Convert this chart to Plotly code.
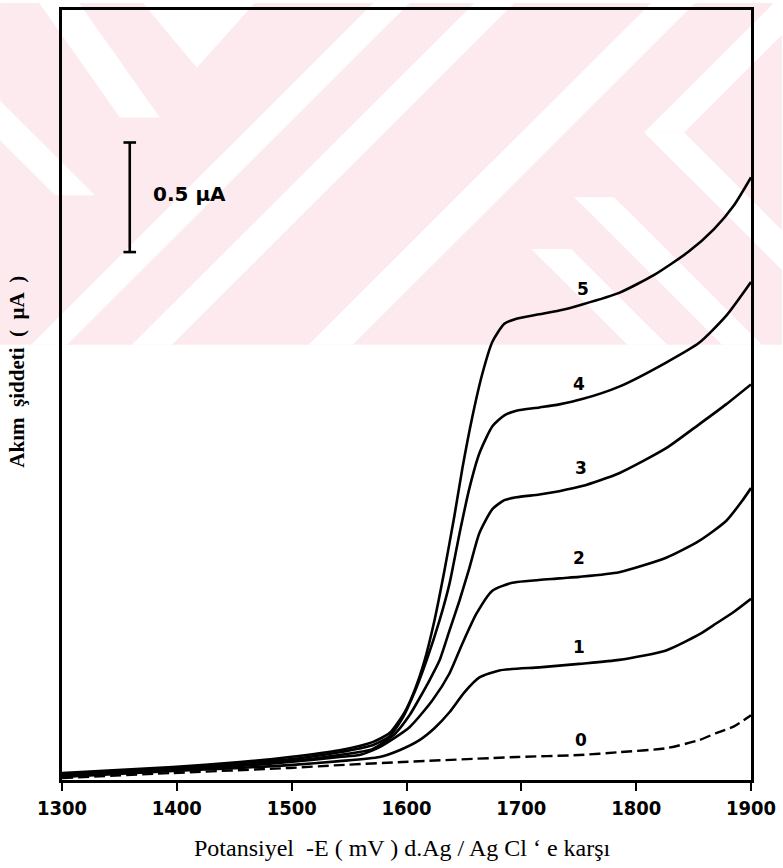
import plotly.graph_objects as go

# ---------------- data (potential in mV, current in µA above baseline) ----------------
curve0_E = [1300, 1396.5, 1498.3, 1541.7, 1596.5, 1696.5, 1750.4, 1785.2, 1826.1, 1854.8, 1869.6, 1885.2, 1900]
curve0_I = [0.009, 0.032, 0.055, 0.068, 0.082, 0.105, 0.114, 0.127, 0.145, 0.182, 0.214, 0.245, 0.295]

curve1_E = [1300, 1396.5, 1454.8, 1498.3, 1541.7, 1576.5, 1593.9, 1611.3, 1624.3, 1637.4, 1650.4, 1663.5,
            1680.9, 1715.7, 1750.4, 1785.2, 1826.1, 1854.8, 1869.6, 1885.2, 1900]
curve1_I = [0.014, 0.041, 0.055, 0.068, 0.086, 0.105, 0.136, 0.182, 0.236, 0.309, 0.400, 0.468,
            0.500, 0.514, 0.530, 0.548, 0.591, 0.664, 0.714, 0.768, 0.827]

curve2_E = [1300, 1396.5, 1454.8, 1498.3, 1541.7, 1559.1, 1576.5, 1602.6, 1622.6, 1637.4, 1648.7, 1660.9,
            1674.8, 1692.2, 1733.0, 1750.4, 1785.2, 1826.1, 1854.8, 1878.3, 1892.2, 1900]
curve2_I = [0.018, 0.045, 0.064, 0.082, 0.105, 0.114, 0.150, 0.241, 0.364, 0.486, 0.623, 0.759,
            0.864, 0.900, 0.920, 0.927, 0.948, 1.014, 1.091, 1.182, 1.273, 1.332]

curve3_E = [1300, 1396.5, 1454.8, 1498.3, 1541.7, 1570.4, 1589.6, 1602.6, 1611.3, 1620.0, 1628.7, 1637.4,
            1646.1, 1654.8, 1663.5, 1674.8, 1685.2, 1695.7, 1715.7, 1733.0, 1753.0, 1785.2, 1826.1,
            1854.8, 1878.3, 1900]
curve3_I = [0.023, 0.050, 0.068, 0.086, 0.114, 0.141, 0.209, 0.295, 0.373, 0.455, 0.545, 0.682,
            0.818, 0.968, 1.127, 1.236, 1.277, 1.290, 1.303, 1.318, 1.341, 1.400, 1.514,
            1.623, 1.714, 1.805]

curve4_E = [1300, 1396.5, 1454.8, 1498.3, 1541.7, 1570.4, 1585.2, 1596.5, 1607.0, 1617.4, 1628.7, 1637.4,
            1646.1, 1654.8, 1663.5, 1674.8, 1685.2, 1695.7, 1715.7, 1733.0, 1753.0, 1785.2, 1826.1,
            1854.8, 1878.3, 1900]
curve4_I = [0.027, 0.055, 0.077, 0.095, 0.127, 0.159, 0.200, 0.282, 0.400, 0.545, 0.727, 0.895,
            1.123, 1.332, 1.491, 1.614, 1.664, 1.685, 1.700, 1.714, 1.738, 1.795, 1.905,
            1.995, 2.118, 2.273]

curve5_E = [1300, 1396.5, 1454.8, 1498.3, 1541.7, 1570.4, 1585.2, 1598.3, 1607.0, 1615.7, 1624.3, 1633.0,
            1641.7, 1648.7, 1657.4, 1666.1, 1674.8, 1685.2, 1695.7, 1715.7, 1733.0, 1753.0, 1785.2,
            1815.7, 1845.2, 1867.8, 1885.2, 1900]
curve5_I = [0.032, 0.059, 0.082, 0.105, 0.136, 0.173, 0.214, 0.309, 0.409, 0.545, 0.727, 0.955,
            1.205, 1.423, 1.659, 1.855, 2.000, 2.082, 2.105, 2.125, 2.142, 2.170, 2.223,
            2.305, 2.409, 2.514, 2.623, 2.750]

label_text = ["5", "4", "3", "2", "1", "0"]
label_E = [1753.9, 1750.4, 1752.2, 1750.4, 1750.4, 1752.2]
label_I = [2.241, 1.805, 1.423, 1.014, 0.605, 0.182]

scalebar_E = [1359, 1359]
scalebar_I = [2.909, 2.409]
scalebar_text = "0.5 µA"

x_ticks = [1300, 1400, 1500, 1600, 1700, 1800, 1900]

# ---------------- figure geometry ----------------
W, H = 783, 868
ML, MR, MT, MB = 62, 31, 7, 88
PW, PH = W - ML - MR, H - MT - MB


def to_paper(px, py):
    return (px - ML) / PW, (H - MB - py) / PH


def clip(poly, xmin, ymin, xmax, ymax):
    def inside(p, e):
        x, y = p
        return [x >= xmin, x <= xmax, y >= ymin, y <= ymax][e]

    def inter(p, q, e):
        (x1, y1), (x2, y2) = p, q
        if e < 2:
            xe = xmin if e == 0 else xmax
            t = (xe - x1) / (x2 - x1)
            return (xe, y1 + t * (y2 - y1))
        ye = ymin if e == 2 else ymax
        t = (ye - y1) / (y2 - y1)
        return (x1 + t * (x2 - x1), ye)

    out = poly
    for e in range(4):
        inp, out = out, []
        if not inp:
            break
        s = inp[-1]
        for p in inp:
            if inside(p, e):
                if not inside(s, e):
                    out.append(inter(s, p, e))
                out.append(p)
            elif inside(s, e):
                out.append(inter(s, p, e))
            s = p
    return out


def band(p0, p1, hw):
    return [(p0[0] - hw, p0[1]), (p0[0] + hw, p0[1]), (p1[0] + hw, p1[1]), (p1[0] - hw, p1[1])]


def path_of(poly):
    pts = [to_paper(x, y) for x, y in poly]
    return "M " + " L ".join(f"{x:.5f},{y:.5f}" for x, y in pts) + " Z"


PINK = "#fdeaee"
WM_BOTTOM = 343
white_polys = [
    band((392 + 200, -200), (392 - 500, 500), 18),   # "/" band
    band((495 + 200, -200), (495 - 500, 500), 20),   # "/" band
    band((674 + 200, -200), (674 - 500, 500), 22),   # "/" band
    band((552, 247), (800, 495), 20),                # "\" band
    band((595, 195), (850, 450), 20),                # "\" band
    band((45, -20), (140, 115), 20),                 # "\" band top-left
    band((-30, 88), (75, 193), 20),                  # "\" band left
    [(143, 0), (255, 0), (197, 65)],                 # top triangle
    band((665, 130), (900, -105), 20),               # "<" upper arm
    band((665, 130), (900, 365), 20),                # "<" lower arm
]

shapes = [dict(type="path", xref="paper", yref="paper", layer="below", line=dict(width=0),
               fillcolor=PINK, path=path_of([(0, 0), (W, 0), (W, WM_BOTTOM), (0, WM_BOTTOM)]))]
for poly in white_polys:
    cp = clip(poly, 0, 0, W, WM_BOTTOM)
    if len(cp) >= 3:
        shapes.append(dict(type="path", xref="paper", yref="paper", layer="below",
                           line=dict(width=0), fillcolor="white", path=path_of(cp)))

fig = go.Figure()

LW = 2.6
solid = [(curve1_E, curve1_I), (curve2_E, curve2_I), (curve3_E, curve3_I),
         (curve4_E, curve4_I), (curve5_E, curve5_I)]
for xs, ys in solid:
    fig.add_trace(go.Scatter(x=xs, y=ys, mode="lines",
                             line=dict(color="black", width=LW, shape="spline", smoothing=0.6),
                             showlegend=False, hoverinfo="skip"))
fig.add_trace(go.Scatter(x=curve0_E, y=curve0_I, mode="lines",
                         line=dict(color="black", width=2.4, dash="11px,5px", shape="spline", smoothing=0.6),
                         showlegend=False, hoverinfo="skip"))

# scale bar
fig.add_trace(go.Scatter(x=scalebar_E, y=scalebar_I, mode="lines+markers",
                         line=dict(color="black", width=2.6),
                         marker=dict(symbol="line-ew", size=9, line=dict(color="black", width=2.6)),
                         showlegend=False, hoverinfo="skip"))

annotations = []
for t, ex, iy in zip(label_text, label_E, label_I):
    annotations.append(dict(x=ex, y=iy, xref="x", yref="y", text=t, showarrow=False,
                            xanchor="center", yanchor="middle",
                            font=dict(family="DejaVu Sans", size=17, color="black", weight="bold")))
annotations.append(dict(x=scalebar_E[0], y=(scalebar_I[0] + scalebar_I[1]) / 2, xref="x", yref="y",
                        text=scalebar_text, showarrow=False, xanchor="left", yanchor="middle",
                        xshift=21, yshift=3,
                        font=dict(family="DejaVu Sans", size=20, color="black", weight="bold")))

ax, ay = to_paper(403, 848)
annotations.append(dict(x=ax, y=ay, xref="paper", yref="paper", showarrow=False,
                        xanchor="center", yanchor="middle",
                        text="Potansiyel  -E ( mV ) d.Ag / Ag Cl \u2018 e karşı",
                        font=dict(family="Liberation Serif", size=24, color="black")))
bx, by = to_paper(17, 370)
annotations.append(dict(x=bx, y=by, xref="paper", yref="paper", showarrow=False, textangle=-90,
                        xanchor="center", yanchor="middle",
                        text="Akım  şiddeti  (  µA  )",
                        font=dict(family="Liberation Serif", size=21, color="black", weight="bold")))

fig.update_layout(
    width=W, height=H,
    margin=dict(l=ML, r=MR, t=MT, b=MB, pad=0),
    paper_bgcolor="white", plot_bgcolor="rgba(0,0,0,0)",
    shapes=shapes, annotations=annotations,
    xaxis=dict(range=[1300, 1900], tickvals=x_ticks, ticktext=[str(v) for v in x_ticks],
               showgrid=False, zeroline=False, showline=True, mirror=True, linecolor="black",
               linewidth=2.6, ticks="outside", ticklen=8, tickwidth=2.2, tickcolor="black",
               tickfont=dict(family="DejaVu Sans Condensed, Liberation Sans Narrow, Liberation Sans",
                             size=20, color="black", weight="bold")),
    yaxis=dict(range=[0, PH / 220], showgrid=False, zeroline=False, showline=True, mirror=True,
               linecolor="black", linewidth=2.6, showticklabels=False, ticks=""),
)

fig.write_html("out.html")
